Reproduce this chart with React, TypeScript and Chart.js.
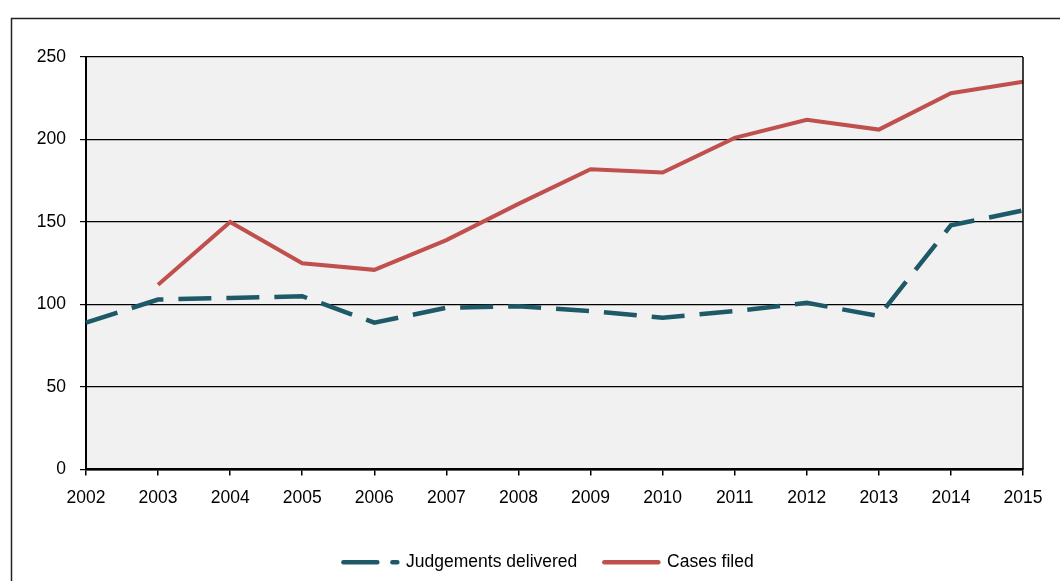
import React, { useEffect, useRef } from "react";
import { Chart, registerables } from "chart.js";

Chart.register(...registerables);

const years = ["2002","2003","2004","2005","2006","2007","2008","2009","2010","2011","2012","2013","2014","2015"];
const judgementsDelivered = [89, 103, 104, 105, 89, 98, 99, 96, 92, 96, 101, 93, 148, 157];
const casesFiled = [null, 112, 150, 125, 121, 139, 161, 182, 180, 201, 212, 206, 228, 235];
const yTicks = [0, 50, 100, 150, 200, 250];

const TEAL = "#1e5968";
const RED = "#c0504d";
const FONT = "'Liberation Sans', Arial, sans-serif";
const FS = 17.5;

const framePlugin = {
  id: "frame",
  afterLayout(chart: any) {
    const lg = chart.legend;
    if (lg) {
      lg.left += 37;
      lg.right += 37;
    }
  },
  beforeDraw(chart: any) {
    const { ctx, chartArea } = chart;
    ctx.save();
    ctx.fillStyle = "#f1f1f1";
    ctx.fillRect(chartArea.left, chartArea.top, chartArea.right - chartArea.left, chartArea.bottom - chartArea.top);
    ctx.strokeStyle = "#222";
    ctx.lineWidth = 1.5;
    ctx.beginPath();
    ctx.moveTo(11.5, 581);
    ctx.lineTo(11.5, 18.5);
    ctx.lineTo(1060, 18.5);
    ctx.stroke();
    ctx.restore();
  },
  afterDatasetsDraw(chart: any) {
    const { ctx, chartArea } = chart;
    ctx.save();
    ctx.strokeStyle = "#000";
    ctx.lineWidth = 1.5;
    ctx.beginPath();
    ctx.moveTo(chartArea.right, chartArea.top);
    ctx.lineTo(chartArea.right, chartArea.bottom);
    ctx.stroke();
    ctx.restore();
  },
};

export default function App() {
  const ref = useRef<HTMLCanvasElement>(null);
  useEffect(() => {
    document.body.style.margin = "0";
    const chart = new Chart(ref.current!, {
      type: "line",
      data: {
        labels: years,
        datasets: [
          {
            label: "Judgements delivered",
            data: judgementsDelivered,
            borderColor: TEAL,
            backgroundColor: TEAL,
            borderWidth: 4.5,
            borderDash: [33, 15],
            borderCapStyle: "butt",
            pointRadius: 0,
            tension: 0,
          },
          {
            label: "Cases filed",
            data: casesFiled as any,
            borderColor: RED,
            backgroundColor: RED,
            borderWidth: 4,
            pointRadius: 0,
            tension: 0,
          },
        ],
      },
      options: {
        responsive: false,
        animation: false,
        layout: { padding: { left: 0, top: 57, right: 37, bottom: 0 } },
        plugins: {
          tooltip: { enabled: false },
          legend: {
            position: "bottom",
            labels: {
              usePointStyle: true,
              pointStyle: "line",
              pointStyleWidth: 54,
              padding: 27,
              color: "#000",
              font: { family: FONT, size: FS },
              generateLabels(chart: any) {
                const items = Chart.defaults.plugins.legend.labels.generateLabels(chart);
                return items.map((it: any, i: number) => {
                  if (i === 0) {
                    it.lineDash = [34, 15];
                    it.lineDashOffset = 0;
                  }
                  it.lineCap = "round";
                  it.lineWidth = 4.5;
                  it.pointStyle = "line";
                  return it;
                });
              },
            },
          },
        },
        scales: {
          x: {
            offset: false,
            grid: { display: true, drawOnChartArea: false, drawTicks: true, tickLength: 6, color: "#000", lineWidth: 1.5 },
            border: { display: true, color: "#000", width: 2.5 },
            ticks: { color: "#000", font: { family: FONT, size: FS }, padding: 12, maxRotation: 0, autoSkip: false },
            afterFit(scale: any) { scale.height = 57; },
          },
          y: {
            min: 0,
            max: 250,
            afterBuildTicks(scale: any) { scale.ticks = yTicks.map((v) => ({ value: v })); },
            grid: { color: "#000", lineWidth: 1.2, tickLength: 6, drawTicks: true },
            border: { display: true, color: "#000", width: 2 },
            ticks: { color: "#000", font: { family: FONT, size: FS }, padding: 14 },
            afterFit(scale: any) { scale.width = 86; },
          },
        },
      },
      plugins: [framePlugin],
    });
    return () => chart.destroy();
  }, []);
  return <canvas ref={ref} width={1060} height={581} style={{ display: "block" }} />;
}
